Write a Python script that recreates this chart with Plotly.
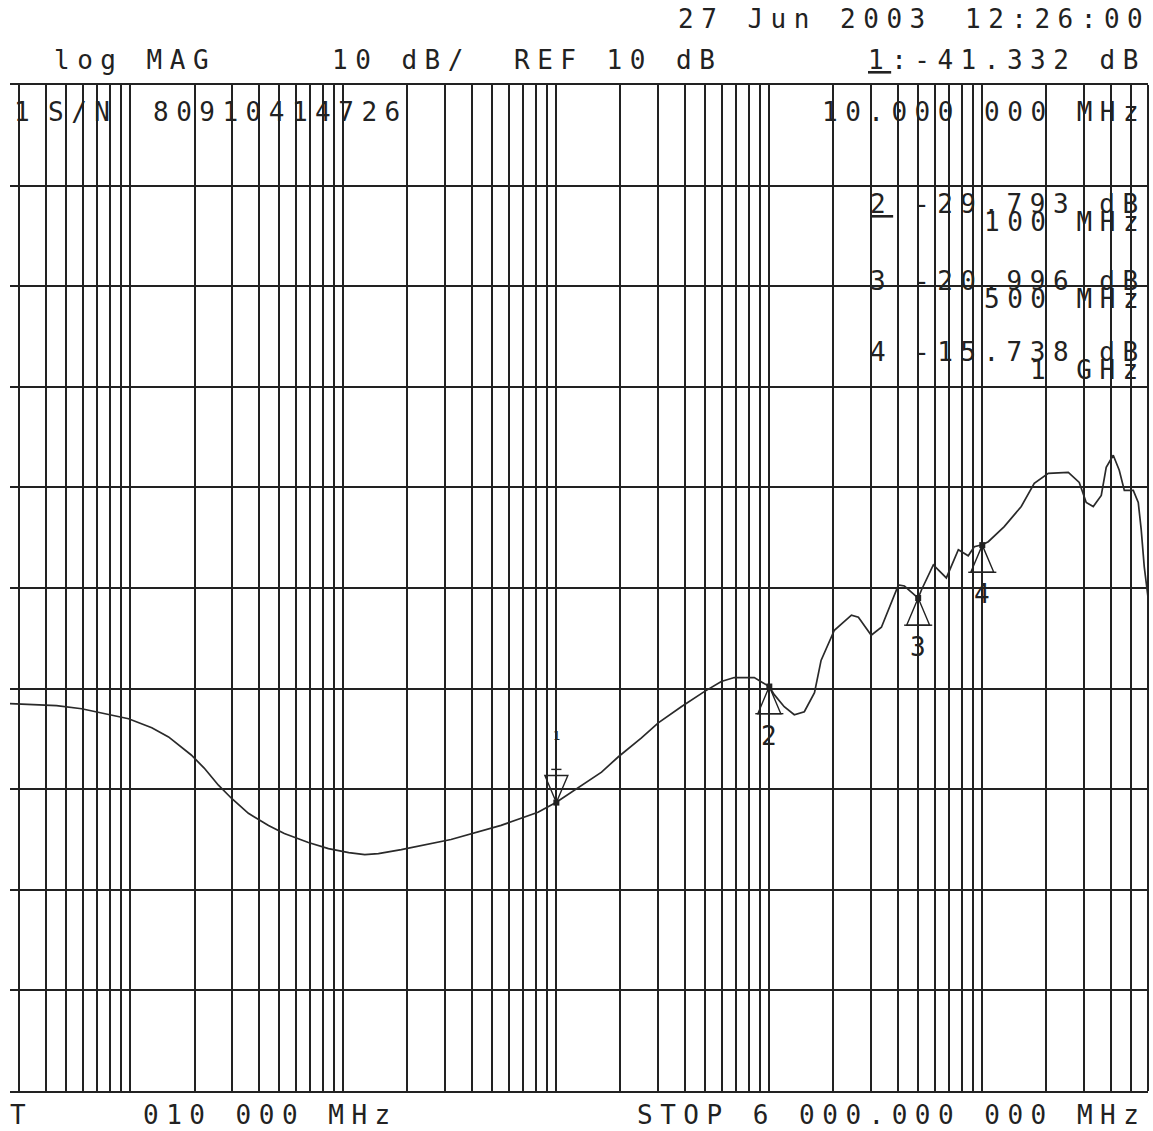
import numpy as np
import plotly.graph_objects as go

# ---- trace data: S-parameter log magnitude vs frequency ----
freq_mhz = [0.0272, 0.045, 0.059, 0.073, 0.098, 0.126, 0.151, 0.193, 0.222, 0.259,
            0.298, 0.358, 0.445, 0.528, 0.685, 0.851, 1.06, 1.26, 1.46, 1.87,
            3.2, 5.5, 6.9, 8.2, 10, 12.7, 16.3, 19.5, 25.1, 30.1,
            38.6, 49.5, 59.5, 68.5, 85, 100, 105.5, 117.5, 131, 146,
            163, 175, 202, 243, 262, 301, 336, 404, 431, 500,
            518, 589, 678, 772, 859, 917, 1000, 1067, 1268, 1524,
            1754, 2042, 2535, 2853, 3077, 3319, 3620, 3819, 4121, 4397,
            4645, 5117, 5400, 5575, 5762, 6000]
mag_db = [-31.5, -31.7, -32.0, -32.4, -33.0, -33.9, -34.8, -36.6, -37.9, -39.6,
          -40.9, -42.4, -43.6, -44.4, -45.3, -45.9, -46.3, -46.5, -46.4, -46.0,
          -45.0, -43.6, -42.9, -42.3, -41.3, -39.8, -38.3, -36.8, -34.9, -33.4,
          -31.8, -30.3, -29.3, -28.9, -28.9, -29.8, -30.6, -31.8, -32.6, -32.3,
          -30.4, -27.2, -24.2, -22.7, -22.9, -24.7, -23.9, -19.7, -19.8, -21.0,
          -20.2, -17.7, -19.0, -16.2, -16.8, -15.9, -15.7, -15.4, -13.9, -11.9,
          -9.6, -8.6, -8.5, -9.5, -11.5, -11.9, -10.8, -8.0, -6.8, -8.3,
          -10.3, -10.3, -11.5, -14.2, -17.9, -20.9]

# ---- markers ----
marker_ids = ["1", "2", "3", "4"]
marker_freq_mhz = [10, 100, 500, 1000]
marker_db = [-41.332, -29.793, -20.996, -15.738]
marker_freq_text = ["10.000 000 MHz", "100 MHz", "500 MHz", "1 GHz"]

# ---- display settings ----
ref_db = 10
scale_db = 10
stop_mhz = 6000
view_start_mhz = 0.0272
db_top, db_bottom = 30, -70

W, H = 1153, 1131
ML, MR, MT, MB = 10, 5, 85, 40
PW, PH = W - ML - MR, H - MT - MB

INK = "#222222"
FONT = "DejaVu Sans Mono"
FS = 26
LS = 7.5


def spaced(s, ls=LS):
    return f'<span style="letter-spacing:{ls}px">{s}</span>'


def under(s):
    return f'<span style="text-decoration:underline">{s}</span>'


def px(xp, yp):
    return (xp - ML) / PW, (MT + PH - yp) / PH


annotations = []


def label(text, xp, yp, anchor="left", size=FS, ls=LS):
    x, y = px(xp, yp)
    annotations.append(dict(
        text=spaced(text, ls), x=x, y=y, xref="paper", yref="paper",
        xanchor=anchor, yanchor="middle", showarrow=False,
        font=dict(family=FONT, size=size, color=INK)))


fig = go.Figure()

fig.add_trace(go.Scatter(
    x=freq_mhz, y=mag_db, mode="lines",
    line=dict(color="#2a2a2a", width=1.7), hoverinfo="skip", showlegend=False))

# marker glyphs built from the marker frequencies and values
half_w = 0.054   # decades
tri_h = 2.7      # dB
for mid, f, v in zip(marker_ids, marker_freq_mhz, marker_db):
    lf = np.log10(f)
    left, right = 10 ** (lf - half_w), 10 ** (lf + half_w)
    if mid == "1":
        # active marker: inverted triangle above the trace
        xs = [f, left, right, f]
        ys = [v, v + tri_h, v + tri_h, v]
        fig.add_trace(go.Scatter(
            x=[10 ** (lf - 0.024), 10 ** (lf + 0.024)], y=[v + tri_h + 0.6] * 2,
            mode="lines", line=dict(color=INK, width=1.4),
            hoverinfo="skip", showlegend=False))
        annotations.append(dict(
            text=mid, x=lf, y=v + tri_h + 3.0, xref="x", yref="y",
            yanchor="bottom", showarrow=False,
            font=dict(family=FONT, size=12, color=INK)))
    else:
        xs = [f, left, right, f]
        ys = [v, v - tri_h, v - tri_h, v]
        fig.add_trace(go.Scatter(
            x=[10 ** (lf - 0.066), 10 ** (lf + 0.066)], y=[v - tri_h] * 2,
            mode="lines", line=dict(color=INK, width=1.4),
            hoverinfo="skip", showlegend=False))
        annotations.append(dict(
            text=mid, x=lf, y=v - tri_h - 2.2, xref="x", yref="y",
            showarrow=False, font=dict(family=FONT, size=FS, color=INK)))
    fig.add_trace(go.Scatter(
        x=xs, y=ys, mode="lines", line=dict(color=INK, width=1.4),
        hoverinfo="skip", showlegend=False))
    fig.add_trace(go.Scatter(
        x=[f], y=[v], mode="markers",
        marker=dict(symbol="square", size=6, color=INK),
        hoverinfo="skip", showlegend=False))

# header lines
label("27 Jun 2003", 676, 19)
label("12:26:00", 1152, 19, anchor="right")
label("log MAG", 52, 60)
label(f"{scale_db} dB/", 330, 60)
label(f"REF {ref_db} dB", 512, 60)
label(under(marker_ids[0]) + f":{marker_db[0]:.3f} dB", 1148, 60, anchor="right")

# channel / active marker line
label("1", 12, 112)
label("S/N", 46, 112)
label("80910414726", 151, 112)
label(marker_freq_text[0], 1148, 112, anchor="right")

# marker table
rows_y = [204, 281, 352]
for i, yy in zip(range(1, 4), rows_y):
    mid = under(marker_ids[i]) if i == 1 else marker_ids[i]
    label(mid, 868, yy)
    label(f"{marker_db[i]:.3f} dB", 1148, yy, anchor="right")
    label(marker_freq_text[i], 1148, yy + 18, anchor="right")

# footer
label("T", 8, 1115)
label("010 000 MHz", 141, 1115)
label(f"STOP {stop_mhz // 1000} 000.000 000 MHz", 1148, 1115, anchor="right")

fig.update_layout(
    width=W, height=H,
    margin=dict(l=ML, r=MR, t=MT, b=MB, pad=0),
    paper_bgcolor="white", plot_bgcolor="white",
    showlegend=False,
    annotations=annotations,
    shapes=[dict(type="line", xref="paper", yref="paper", x0=1, x1=1, y0=0, y1=1,
                 line=dict(color=INK, width=2))],
)
fig.update_xaxes(
    type="log", range=[np.log10(view_start_mhz), np.log10(stop_mhz)],
    dtick="D1", showticklabels=False, ticks="",
    showgrid=True, gridcolor=INK, gridwidth=2,
    showline=True, linecolor=INK, linewidth=2, mirror=True, zeroline=False)
fig.update_yaxes(
    range=[db_bottom, db_top], dtick=scale_db, showticklabels=False, ticks="",
    showgrid=True, gridcolor=INK, gridwidth=2,
    showline=False, zeroline=False)

fig.write_html("out.html")
